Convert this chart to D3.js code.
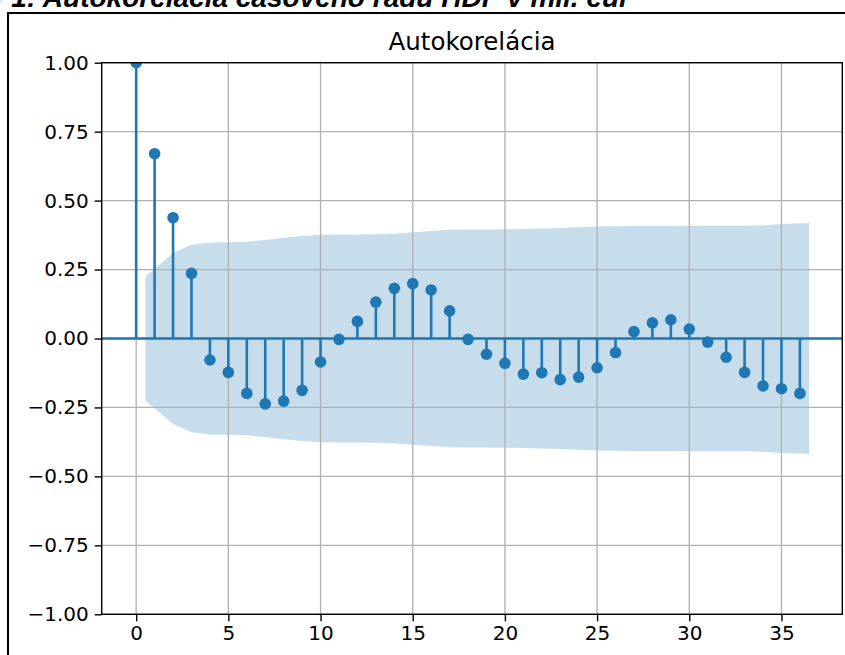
<!DOCTYPE html>
<html><head><meta charset="utf-8">
<script src="https://cdn.jsdelivr.net/npm/d3@7"></script>
<style>
html,body{margin:0;padding:0;background:#fff;}
svg{display:block;}
</style></head>
<body>
<svg id="chart" width="845" height="655"></svg>
<script>
const lags = d3.range(0, 37);
const acfValues = [1.00, 0.670, 0.438, 0.236, -0.078, -0.123, -0.199, -0.237, -0.227, -0.188,
  -0.085, -0.003, 0.062, 0.132, 0.182, 0.199, 0.176, 0.100, -0.003, -0.057,
  -0.090, -0.129, -0.124, -0.149, -0.140, -0.106, -0.051, 0.025, 0.057, 0.068,
  0.034, -0.013, -0.068, -0.123, -0.172, -0.182, -0.199];
const bandLags = [0.5, 2, 3, 4, 5, 6, 7, 8, 9, 10, 11, 12, 13, 14, 15, 16, 17, 18, 19, 20,
  21, 22, 23, 24, 25, 26, 27, 28, 29, 30, 31, 32, 33, 34, 35, 36.5];
const bandHalfWidth = [0.225, 0.310, 0.340, 0.348, 0.349, 0.351, 0.357, 0.365, 0.372, 0.376,
  0.377, 0.377, 0.378, 0.380, 0.385, 0.390, 0.394, 0.395, 0.395, 0.396,
  0.397, 0.399, 0.401, 0.403, 0.406, 0.407, 0.408, 0.408, 0.408, 0.409,
  0.409, 0.409, 0.409, 0.411, 0.415, 0.419];
const xTicks = [0, 5, 10, 15, 20, 25, 30, 35];
const yTicks = [-1.00, -0.75, -0.50, -0.25, 0.00, 0.25, 0.50, 0.75, 1.00];
const chartTitle = "Autokorelácia";
const docCaption = "Graf 1: Autokorelácia časového radu HDP v mil. eur";

const svg = d3.select("#chart");
const L = 101.7, R = 842.3, T = 62.7, B = 614.3;
const x = d3.scaleLinear().domain([-1.87, 38.3]).range([L, R]);
const y = d3.scaleLinear().domain([-1, 1]).range([B, T]);
const blue = "#1f77b4";
const fontFam = "'DejaVu Sans', sans-serif";

// document frame and caption
svg.append("rect").attr("x", 8).attr("y", 13).attr("width", 900).attr("height", 700)
  .attr("fill", "none").attr("stroke", "#000").attr("stroke-width", 2);
svg.append("text").attr("x", 630).attr("y", 7).attr("text-anchor", "end")
  .attr("font-family", "'Liberation Sans', Arial, sans-serif")
  .attr("font-weight", "bold").attr("font-style", "italic").attr("font-size", 28)
  .text(docCaption);

svg.append("defs").append("clipPath").attr("id", "clip")
  .append("rect").attr("x", L).attr("y", T).attr("width", R - L).attr("height", B - T);

const plot = svg.append("g").attr("clip-path", "url(#clip)");

// confidence band
const bandData = bandLags.map((l, i) => ({l, h: bandHalfWidth[i]}));
plot.append("path").datum(bandData)
  .attr("fill", blue).attr("fill-opacity", 0.25)
  .attr("d", d3.area().x(d => x(d.l)).y0(d => y(-d.h)).y1(d => y(d.h)));

// grid
const grid = plot.append("g").attr("stroke", "#b0b0b0").attr("stroke-width", 1.3);
grid.selectAll(".gx").data(xTicks).join("line")
  .attr("x1", d => x(d)).attr("x2", d => x(d)).attr("y1", T).attr("y2", B);
grid.selectAll(".gy").data(yTicks).join("line")
  .attr("y1", d => y(d)).attr("y2", d => y(d)).attr("x1", L).attr("x2", R);

// zero line
plot.append("line").attr("x1", L).attr("x2", R).attr("y1", y(0)).attr("y2", y(0))
  .attr("stroke", blue).attr("stroke-width", 2.6);

// stems
plot.selectAll(".stem").data(lags).join("line")
  .attr("x1", d => x(d)).attr("x2", d => x(d))
  .attr("y1", y(0)).attr("y2", d => y(acfValues[d]))
  .attr("stroke", blue).attr("stroke-width", 2.6);

// markers
plot.selectAll(".mk").data(lags).join("circle")
  .attr("cx", d => x(d)).attr("cy", d => y(acfValues[d])).attr("r", 5.8)
  .attr("fill", blue);

// axes
const fmt = v => d3.format(".2f")(v).replace("-", "\u2212");
const xAxis = svg.append("g").attr("transform", `translate(0,${B})`)
  .call(d3.axisBottom(x).tickValues(xTicks).tickSize(7).tickPadding(5));
const yAxis = svg.append("g").attr("transform", `translate(${L},0)`)
  .call(d3.axisLeft(y).tickValues(yTicks).tickFormat(fmt).tickSize(7).tickPadding(6));
[xAxis, yAxis].forEach(a => {
  a.select(".domain").remove();
  a.selectAll("line").attr("stroke", "#000").attr("stroke-width", 1.4);
  a.selectAll("text").attr("fill", "#000").attr("font-family", fontFam).attr("font-size", 20);
});

// spines
svg.append("rect").attr("x", L).attr("y", T).attr("width", R - L).attr("height", B - T)
  .attr("fill", "none").attr("stroke", "#000").attr("stroke-width", 1.4);

// title
svg.append("text").attr("x", (L + R) / 2).attr("y", 50).attr("text-anchor", "middle")
  .attr("font-family", fontFam).attr("font-size", 24.5).attr("fill", "#000")
  .text(chartTitle);
</script>
</body></html>
